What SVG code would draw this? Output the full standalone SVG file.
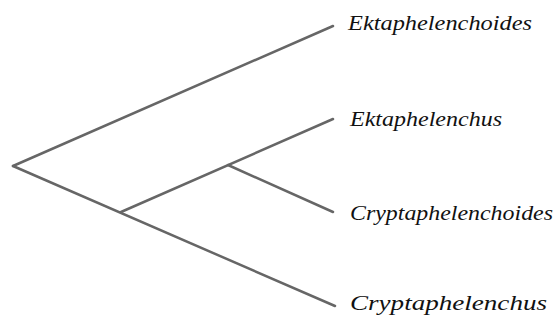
<svg xmlns="http://www.w3.org/2000/svg" width="556" height="322" viewBox="0 0 556 322">
<style>
.e{stroke:#666;stroke-width:2.5;fill:none;stroke-linecap:round}
.t{font-family:"Liberation Serif","Times New Roman",serif;font-style:italic;font-size:21.5px;fill:#111}
</style>
<rect width="556" height="322" fill="#fff"/>
<g id="connectors">
<line class="e" x1="13" y1="166" x2="333" y2="26"/>
<line class="e" x1="13" y1="166" x2="335" y2="306"/>
<line class="e" x1="121" y1="212" x2="333" y2="119"/>
<line class="e" x1="228" y1="165" x2="333" y2="212"/>
</g>
<g id="n1"><text class="t" x="348" y="30" textLength="184" lengthAdjust="spacingAndGlyphs">Ektaphelenchoides</text></g>
<g id="n2"><text class="t" x="350" y="126" textLength="152" lengthAdjust="spacingAndGlyphs">Ektaphelenchus</text></g>
<g id="n3"><text class="t" x="350" y="220" textLength="203" lengthAdjust="spacingAndGlyphs">Cryptaphelenchoides</text></g>
<g id="n4"><text class="t" x="350" y="310" textLength="197" lengthAdjust="spacingAndGlyphs">Cryptaphelenchus</text></g>
</svg>
